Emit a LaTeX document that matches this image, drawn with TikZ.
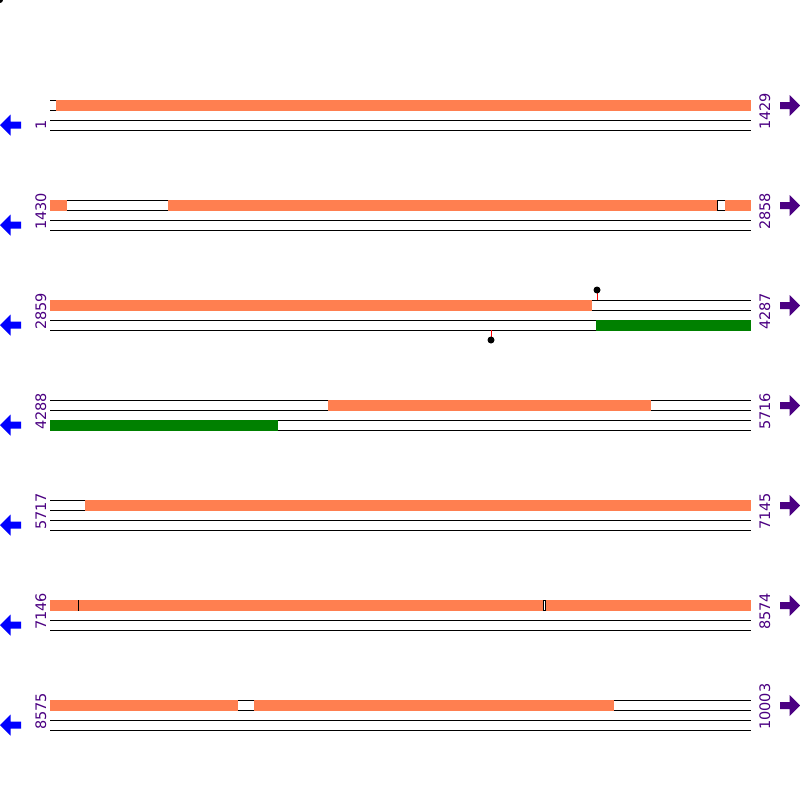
\documentclass[tikz,border=0pt]{standalone}
\usepackage{fontspec}
\setmainfont{DejaVu Sans}
\definecolor{orf}{RGB}{255,127,80}
\definecolor{grn}{RGB}{0,128,0}
\definecolor{ind}{RGB}{75,0,130}
\definecolor{blu}{RGB}{0,0,255}
\begin{document}
\begin{tikzpicture}[x=1pt,y=-1pt,
  trackline/.style={black,line width=1pt},
  orfbar/.style={fill=orf,draw=none},
  grnbar/.style={fill=grn,draw=none},
  gapbox/.style={fill=white,draw=black,line width=0.8pt},
  numlab/.style={text=ind,font=\fontsize{14.5}{14.5}\selectfont,rotate=90,inner sep=0pt,anchor=base west},
  pinline/.style={red,line width=1pt},
  pindot/.style={fill=black,draw=none}]
\useasboundingbox (0,0) rectangle (800,800);
\fill[white] (0,0) rectangle (800,800);
\fill[black] (0,0) circle (3);

% track lines
\foreach \T in {100,200,...,700}{
  \foreach \d in {0,10,20,30}{
    \draw[trackline] (50,\T+\d) -- (751,\T+\d);
  }
  % left arrow (blue)
  \fill[blu] (0,\T+25) -- (10.5,\T+14.5) -- (10.5,\T+21.5) -- (21,\T+21.5) -- (21,\T+28.5) -- (10.5,\T+28.5) -- (10.5,\T+35.5) -- cycle;
  % right arrow (indigo)
  \fill[ind] (800,\T+5.5) -- (789.5,\T-5) -- (789.5,\T+2) -- (780,\T+2) -- (780,\T+9) -- (789.5,\T+9) -- (789.5,\T+16) -- cycle;
}

% row 1
\fill[orfbar] (56,99.5) rectangle (751,110.5);
% row 2
\fill[orfbar] (50,199.5) rectangle (67,210.5);
\fill[orfbar] (168,199.5) rectangle (717,210.5);
\draw[gapbox] (717,200) rectangle (725,210);
\fill[orfbar] (725,199.5) rectangle (751,210.5);
% row 3
\fill[orfbar] (50,299.5) rectangle (592,310.5);
\fill[grnbar] (596,319.5) rectangle (751,330.5);
\coordinate (p1) at (597,300);
\coordinate (p2) at (491,330);
\draw[pinline] (p1) -- ++(0,-10);
\fill[pindot] (597,290) circle (3.5);
\draw[pinline] (p2) -- ++(0,10);
\fill[pindot] (491,340) circle (3.5);
% row 4
\fill[orfbar] (328,399.5) rectangle (651,410.5);
\fill[grnbar] (50,419.5) rectangle (278,430.5);
% row 5
\fill[orfbar] (85,499.5) rectangle (751,510.5);
% row 6
\fill[orfbar] (50,599.5) rectangle (77.5,610.5);
\fill[orfbar] (78.5,599.5) rectangle (543,610.5);
\fill[orfbar] (545,599.5) rectangle (751,610.5);
\draw[black,line width=0.6pt] (78,600) -- (78,610);
\draw[gapbox] (543,600) rectangle (545,610);
% row 7
\fill[orfbar] (50,699.5) rectangle (238,710.5);
\fill[orfbar] (254,699.5) rectangle (614,710.5);

% labels
\node[numlab] (l1) at (46,130) {1};
\node[numlab] (r1) at (770,130) {1429};
\node[numlab] (l2) at (46,230) {1430};
\node[numlab] (r2) at (770,230) {2858};
\node[numlab] (l3) at (46,330) {2859};
\node[numlab] (r3) at (770,330) {4287};
\node[numlab] (l4) at (46,430) {4288};
\node[numlab] (r4) at (770,430) {5716};
\node[numlab] (l5) at (46,530) {5717};
\node[numlab] (r5) at (770,530) {7145};
\node[numlab] (l6) at (46,630) {7146};
\node[numlab] (r6) at (770,630) {8574};
\node[numlab] (l7) at (46,730) {8575};
\node[numlab] (r7) at (770,730) {10003};
\end{tikzpicture}
\end{document}
